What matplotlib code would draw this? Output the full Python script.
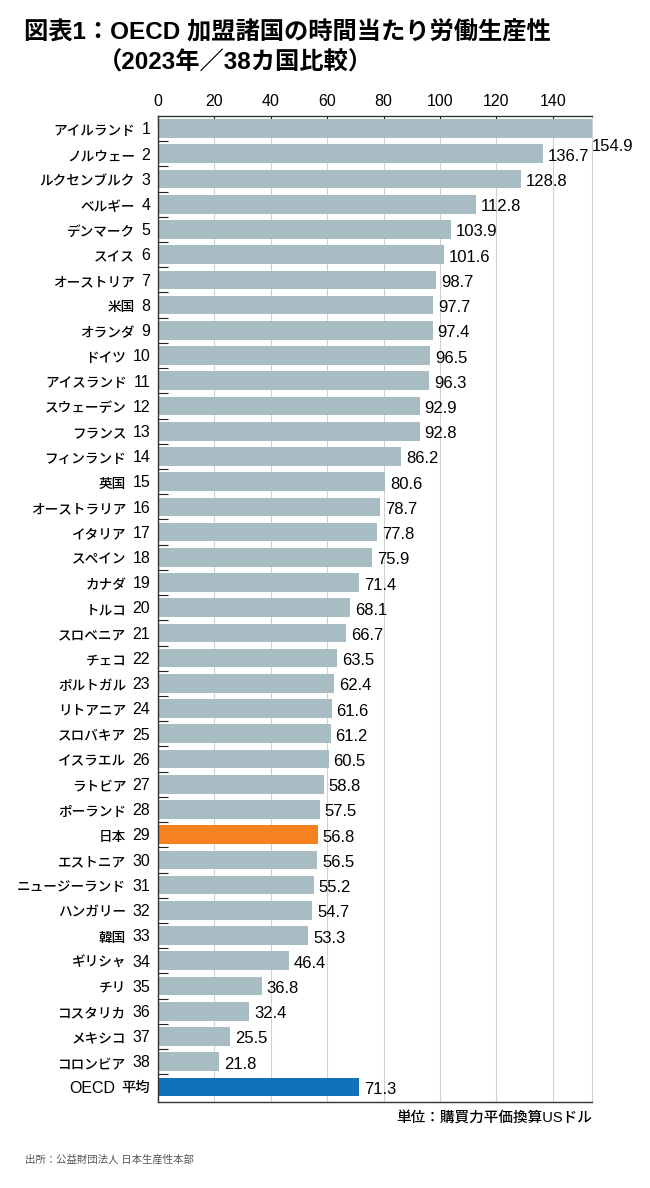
import matplotlib
matplotlib.use('Agg')
from matplotlib import pyplot as plt
from matplotlib.transforms import blended_transform_factory
import numpy as np

plt.rcParams['font.family'] = ['Liberation Sans', 'Noto Sans CJK JP', 'DejaVu Sans']

countries = ['アイルランド', 'ノルウェー', 'ルクセンブルク', 'ベルギー', 'デンマーク', 'スイス',
             'オーストリア', '米国', 'オランダ', 'ドイツ', 'アイスランド', 'スウェーデン',
             'フランス', 'フィンランド', '英国', 'オーストラリア', 'イタリア', 'スペイン',
             'カナダ', 'トルコ', 'スロベニア', 'チェコ', 'ポルトガル', 'リトアニア',
             'スロバキア', 'イスラエル', 'ラトビア', 'ポーランド', '日本', 'エストニア',
             'ニュージーランド', 'ハンガリー', '韓国', 'ギリシャ', 'チリ', 'コスタリカ',
             'メキシコ', 'コロンビア']
values = [154.9, 136.7, 128.8, 112.8, 103.9, 101.6, 98.7, 97.7, 97.4, 96.5, 96.3, 92.9,
          92.8, 86.2, 80.6, 78.7, 77.8, 75.9, 71.4, 68.1, 66.7, 63.5, 62.4, 61.6, 61.2,
          60.5, 58.8, 57.5, 56.8, 56.5, 55.2, 54.7, 53.3, 46.4, 36.8, 32.4, 25.5, 21.8]
oecd_label = ('OECD', '平均')
oecd_value = 71.3
x_ticks = [0, 20, 40, 60, 80, 100, 120, 140]

# label = (left part, right part) -> katakana names smaller, rank digits larger
left_parts = countries + [oecd_label[0]]
right_parts = [str(i + 1) for i in range(len(countries))] + [oecd_label[1]]
vals = values + [oecd_value]
colors = ['#a8bcc3'] * len(vals)
colors[countries.index('日本')] = '#f5821f'
colors[-1] = '#1172bc'

XMAX = 154.0
fig = plt.figure(figsize=(6.5, 11.88), dpi=100)
ax = fig.add_axes([0.243, 0.0724, 0.668, 0.830])

y = np.arange(len(vals))
ax.barh(y, vals, height=0.74, color=colors, zorder=2)
ax.set_ylim(len(vals) - 0.5 + 0.1, -0.5)
ax.set_xlim(0, XMAX)

for yi, v in zip(y, vals):
    if v > XMAX:
        ax.text(XMAX, yi + 0.7, f'{v}', va='center', ha='left', fontsize=12, clip_on=False)
    else:
        ax.text(v + 1.7, yi + 0.1, f'{v}', va='center', ha='left', fontsize=12)

# y labels drawn as two pieces
trans = blended_transform_factory(ax.transAxes, ax.transData)
for yi, lp, rp in zip(y, left_parts, right_parts):
    is_cjk_right = not rp.isdigit()
    rt = ax.text(-0.018, yi + 0.05, rp, transform=trans, ha='right', va='center',
                 fontsize=10.3 if is_cjk_right else 11.5,
                 fontweight='medium' if is_cjk_right else 'normal')
    ax.annotate(lp, xy=(0, 0.5), xycoords=rt,
                xytext=(-4.5, 0 if is_cjk_right else -0.8), textcoords='offset points',
                ha='right', va='center', fontsize=11.5 if is_cjk_right else 9.8,
                fontweight='normal' if is_cjk_right else 'medium')

ax.set_yticks([])
ax.set_yticks(y[:-1] + 0.5, minor=True)
ax.tick_params(axis='y', which='minor', direction='in', length=7, width=0.8,
               color='#222222', labelleft=False)

ax.xaxis.tick_top()
ax.set_xticks(x_ticks)
ax.tick_params(axis='x', direction='in', length=8, width=0.8, labelsize=11.5, pad=5, color='#222222')
ax.grid(axis='x', color='#d0d0d0', linewidth=0.8, zorder=0)

for s in ['top', 'bottom', 'left']:
    ax.spines[s].set_color('#333333')
    ax.spines[s].set_linewidth(1.0)
ax.spines['right'].set_color('#d0d0d0')
ax.spines['right'].set_linewidth(0.8)

fig.text(0.037, 0.972, '図表1：OECD 加盟諸国の時間当たり労働生産性', fontsize=17.5,
         fontweight='bold', va='center', ha='left')
fig.text(0.150, 0.947, '（2023年／38カ国比較）', fontsize=17.5,
         fontweight='bold', va='center', ha='left')
fig.text(0.911, 0.059, '単位：購買力平価換算USドル', fontsize=10.5, ha='right', va='center',
         fontweight='medium')
fig.text(0.038, 0.024, '出所：公益財団法人 日本生産性本部', fontsize=7.5, ha='left',
         va='center', color='#555555')

plt.savefig('out.png', dpi=100)
